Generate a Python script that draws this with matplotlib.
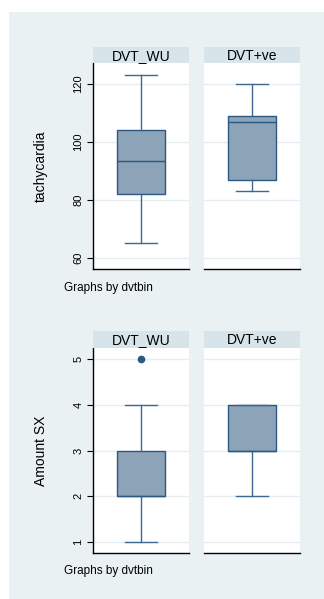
import matplotlib
matplotlib.use('Agg')
import matplotlib.pyplot as plt

plt.rcParams['font.family'] = ['Liberation Sans', 'DejaVu Sans']

# groups of dvtbin
groups = ['DVT_WU', 'DVT+ve']

# tachycardia box summaries per group
tachyLow = [65, 83]
tachyQ1 = [82, 87]
tachyMed = [93.5, 107]
tachyQ3 = [104, 109]
tachyHigh = [123, 120]
tachyOut = [[], []]

# amount SX box summaries per group
sxLow = [1, 2]
sxQ1 = [2, 3]
sxMed = [2, 3]
sxQ3 = [3, 4]
sxHigh = [4, 4]
sxOut = [[5], []]

W, H = 324, 599
bgColor = '#eaf1f3'
stripColor = '#d7e4ea'
fillColor = '#8ca3b8'
navy = '#2c5883'
whiskColor = '#3d6890'
gridColor = '#e6eef1'

fig = plt.figure(figsize=(W / 100.0, H / 100.0), dpi=100)
fig.patch.set_facecolor('white')
# outer graph region
fig.patches.append(plt.Rectangle((9.0 / W, 0), 1 - 9.0 / W, 1 - 12.0 / H,
								 transform=fig.transFigure, facecolor=bgColor,
								 edgecolor='none', zorder=-10))

def pix(x0, y0, x1, y1):
	#convert pixel box (top-left origin) to figure fraction rect
	return [x0 / W, 1 - y1 / H, (x1 - x0) / W, (y1 - y0) / H]

def drawGraph(top, bottom, stripTop, ylim, ticks, ylabel, lows, q1s, meds, q3s, highs, outs, noteY):
	panelsX = [(93, 189), (204, 300)]
	for ind in range(0, len(groups)):
		x0, x1 = panelsX[ind]
		ax = fig.add_axes(pix(x0, top, x1, bottom))
		ax.set_facecolor('white')
		stats = [{'whislo': lows[ind], 'q1': q1s[ind], 'med': meds[ind], 'q3': q3s[ind],
				  'whishi': highs[ind], 'fliers': outs[ind]}]
		ax.bxp(stats, positions=[1], widths=0.51, capwidths=0.34, patch_artist=True,
			   boxprops=dict(facecolor=fillColor, edgecolor=navy, linewidth=1.0),
			   medianprops=dict(color=navy, linewidth=1.0),
			   whiskerprops=dict(color=whiskColor, linewidth=1.0),
			   capprops=dict(color=whiskColor, linewidth=1.0),
			   flierprops=dict(marker='o', markerfacecolor=navy, markeredgecolor=navy, markersize=4.5))
		ax.set_xlim(0.5, 1.5)
		ax.set_ylim(ylim)
		ax.set_yticks(ticks)
		for t in ticks:
			ax.axhline(t, color=gridColor, linewidth=1.0, zorder=0)
		ax.set_xticks([])
		for side in ['top', 'right']:
			ax.spines[side].set_visible(False)
		ax.spines['bottom'].set_linewidth(1.0)
		ax.spines['bottom'].set_color('black')
		if ind == 0:
			ax.spines['left'].set_linewidth(1.0)
			ax.spines['left'].set_color('black')
			ax.tick_params(axis='y', length=4, width=0.8, labelsize=8, pad=3)
			plt.setp(ax.get_yticklabels(), rotation=90, va='center')
			ax.set_ylabel(ylabel, fontsize=10, labelpad=18)
		else:
			ax.spines['left'].set_visible(False)
			ax.tick_params(axis='y', length=0, labelleft=False)

		#strip with group name
		sax = fig.add_axes(pix(x0, stripTop, x1, top))
		sax.set_facecolor(stripColor)
		sax.set_xticks([])
		sax.set_yticks([])
		for side in sax.spines:
			sax.spines[side].set_visible(False)
		sax.text(0.5, 0.45, groups[ind], ha='center', va='center', fontsize=10, transform=sax.transAxes)

	fig.text(64.0 / W, 1 - noteY / H, 'Graphs by dvtbin', fontsize=8.5, ha='left', va='center')

drawGraph(63, 269, 47, (56.1, 127.3), [60, 80, 100, 120], 'tachycardia',
		  tachyLow, tachyQ1, tachyMed, tachyQ3, tachyHigh, tachyOut, 288)
drawGraph(347.7, 553.3, 330.7, (0.75, 5.25), [1, 2, 3, 4, 5], 'Amount SX',
		  sxLow, sxQ1, sxMed, sxQ3, sxHigh, sxOut, 571)

fig.savefig('out.png', dpi=100, facecolor=fig.get_facecolor())
